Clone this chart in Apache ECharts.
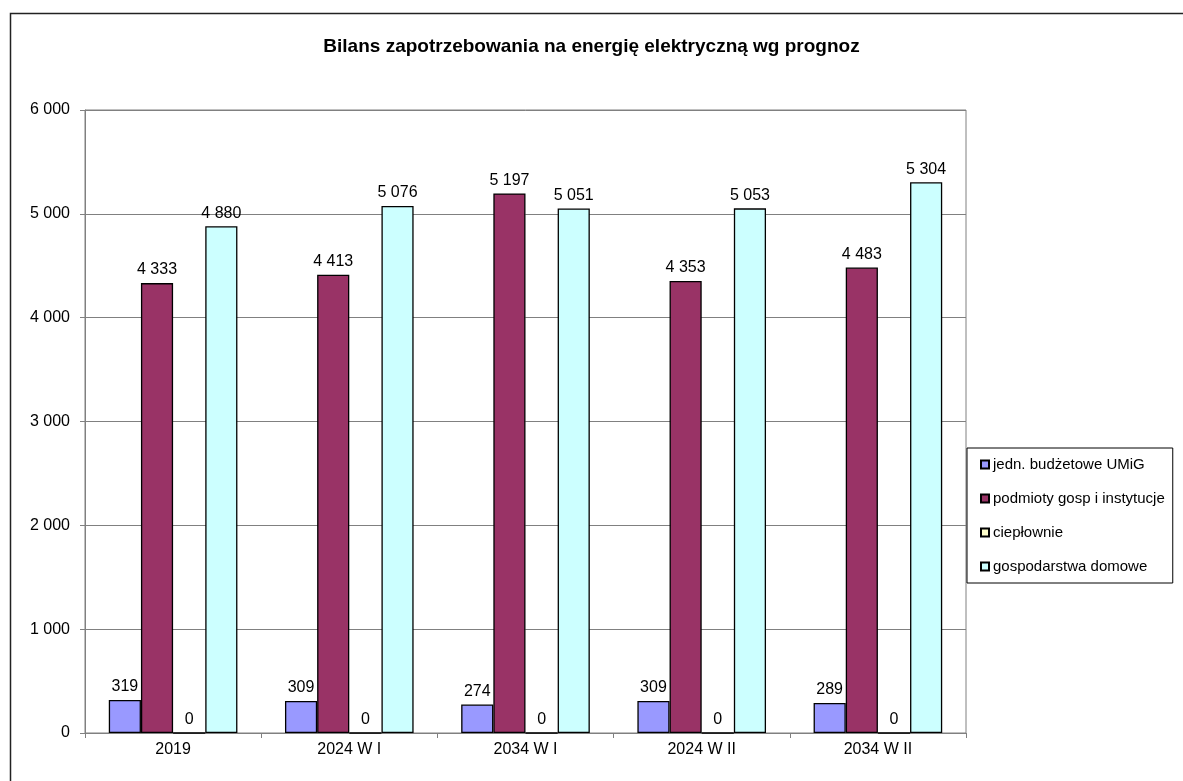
<!DOCTYPE html>
<html>
<head>
<meta charset="utf-8">
<script src="https://cdn.jsdelivr.net/npm/echarts@6/dist/echarts.min.js"></script>
<style>
html,body{margin:0;padding:0;background:#fff;}
#chart{width:1183px;height:781px;}
</style>
</head>
<body>
<div id="chart"></div>
<script>
const categories = ['2019', '2024 W I', '2034 W I', '2024 W II', '2034 W II'];
const seriesNames = ['jedn. budżetowe UMiG', 'podmioty gosp i instytucje', 'ciepłownie', 'gospodarstwa domowe'];
const budzetowe = [319, 309, 274, 309, 289];
const podmioty = [4333, 4413, 5197, 4353, 4483];
const cieplownie = [0, 0, 0, 0, 0];
const gospodarstwa = [4880, 5076, 5051, 5053, 5304];
const colors = ['#9999FF', '#993366', '#FFFFCC', '#CCFFFF'];

const FONT = '"Liberation Sans", Arial, sans-serif';
function fmt(v){ return String(v).replace(/\B(?=(\d{3})+(?!\d))/g, ' '); }

const allData = [budzetowe, podmioty, cieplownie, gospodarstwa];
const series = allData.map((d, i) => ({
  name: seriesNames[i],
  type: 'bar',
  data: d,
  barGap: '0%',
  barCategoryGap: '27%',
  itemStyle: { color: colors[i], borderColor: '#000', borderWidth: 1.3 },
  label: {
    show: true, position: 'top', distance: 5,
    color: '#000', fontFamily: FONT, fontSize: 16,
    formatter: p => fmt(p.value)
  }
}));

const chart = echarts.init(document.getElementById('chart'), null, {renderer: 'canvas'});
chart.setOption({
  animation: false,
  backgroundColor: '#fff',
  title: {
    text: 'Bilans zapotrzebowania na energię elektryczną wg prognoz',
    left: 'center', top: 32,
    textStyle: { fontFamily: FONT, fontSize: 19, fontWeight: 'bold', color: '#000' }
  },
  graphic: [{
    type: 'rect', shape: { x: 10.5, y: 13.5, width: 1300, height: 900 },
    style: { fill: 'none', stroke: '#222', lineWidth: 1.5 }, silent: true, z: 0
  }],
  legend: {
    orient: 'vertical', left: 967, top: 448,
    padding: [9, 8, 9, 13],
    borderColor: '#000', borderWidth: 1,
    itemWidth: 8, itemHeight: 8, itemGap: 19,
    icon: 'rect',
    textStyle: { fontFamily: FONT, fontSize: 15, color: '#000', lineHeight: 15, padding: [0,0,0,-1] }
  },
  grid: {
    left: 85, top: 110, right: 217, bottom: 48,
    show: true, borderColor: '#808080', borderWidth: 1, backgroundColor: 'transparent'
  },
  xAxis: {
    type: 'category', data: categories,
    axisLine: { lineStyle: { color: '#808080', width: 1 } },
    axisTick: { show: true, length: 5, lineStyle: { color: '#808080' } },
    axisLabel: { color: '#000', fontFamily: FONT, fontSize: 16, margin: 9 }
  },
  yAxis: {
    type: 'value', min: 0, max: 6000, interval: 1000,
    axisLine: { show: true, lineStyle: { color: '#808080', width: 1 } },
    axisTick: { show: true, length: 5, lineStyle: { color: '#808080' } },
    splitLine: { lineStyle: { color: '#808080', width: 1 } },
    axisLabel: { color: '#000', fontFamily: FONT, fontSize: 16, margin: 15, formatter: v => fmt(v) }
  },
  series: series
});
</script>
</body>
</html>
